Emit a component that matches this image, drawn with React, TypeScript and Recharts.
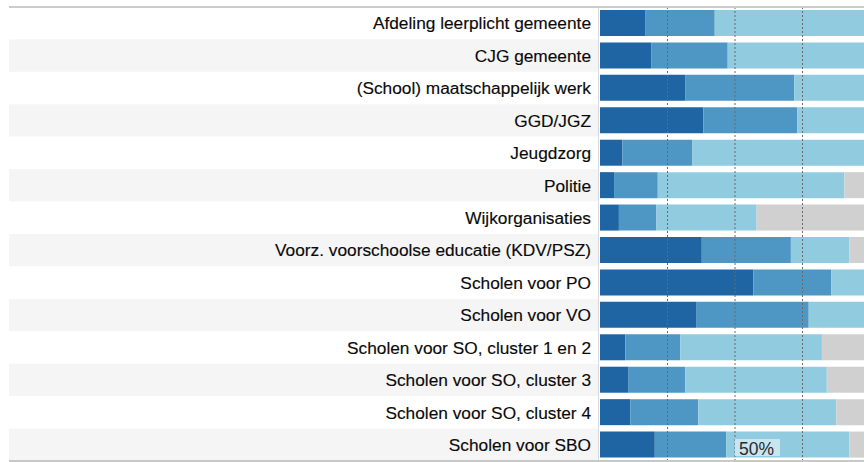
import React from "react";
import { BarChart, Bar, XAxis, YAxis, ReferenceLine } from "recharts";

const categories = [
  "Afdeling leerplicht gemeente",
  "CJG gemeente",
  "(School) maatschappelijk werk",
  "GGD/JGZ",
  "Jeugdzorg",
  "Politie",
  "Wijkorganisaties",
  "Voorz. voorschoolse educatie (KDV/PSZ)",
  "Scholen voor PO",
  "Scholen voor VO",
  "Scholen voor SO, cluster 1 en 2",
  "Scholen voor SO, cluster 3",
  "Scholen voor SO, cluster 4",
  "Scholen voor SBO",
];

const seriesDark = [16.7, 19.1, 31.7, 38.3, 8.3, 5.2, 7.0, 37.7, 56.8, 35.8, 9.4, 10.6, 11.2, 20.3];
const seriesMedium = [25.8, 28.2, 40.2, 34.8, 25.8, 16.2, 13.9, 33.0, 28.9, 41.5, 20.3, 21.0, 25.2, 26.4];
const seriesLight = [57.5, 52.7, 28.1, 26.9, 65.9, 69.1, 37.1, 21.6, 14.3, 22.7, 52.5, 52.4, 51.1, 45.6];
const seriesGray = [0, 0, 0, 0, 0, 9.5, 42.0, 7.7, 0, 0, 17.8, 16.0, 12.5, 7.7];

const gridTicks = [25, 50, 75];
const markerValue = 50;
const markerLabel = "50%";

const data = categories.map((name, i) => ({
  name,
  dark: seriesDark[i],
  medium: seriesMedium[i],
  light: seriesLight[i],
  gray: seriesGray[i],
}));

const CHART_W = 880;
const CHART_H = 462;
const MARGIN = { top: 7, right: 10, bottom: 1, left: 0 };
const BAND = (CHART_H - MARGIN.top - MARGIN.bottom) / categories.length;
const FONT = "'Liberation Sans', Arial, sans-serif";

const CategoryTick = (props: any) => {
  const { x, y, payload, index } = props;
  return (
    <g>
      <rect
        x={9}
        y={y - BAND / 2}
        width={589}
        height={BAND}
        fill={index % 2 === 1 ? "#f5f5f5" : "#ffffff"}
      />
      <line x1={598.5} x2={598.5} y1={y - BAND / 2} y2={y + BAND / 2} stroke="#d5dbe1" strokeWidth={1} />
      <text
        x={x - 1}
        y={y}
        dy="0.36em"
        textAnchor="end"
        fontSize={17.3}
        fontFamily={FONT}
        fill="#0a0a0a"
        stroke="#0a0a0a"
        strokeWidth={0.15}
      >
        {payload.value}
      </text>
    </g>
  );
};

const MarkerLabel = (props: any) => {
  const vb = props.viewBox || {};
  const bx = vb.x;
  const by = vb.y + vb.height - 22;
  return (
    <g>
      <rect x={bx} y={by} width={45} height={17} fill="#c8e6f2" />
      <text x={bx + 4} y={by + 16} fontSize={17.5} fontFamily={FONT} fill="#2a2a2a">
        {markerLabel}
      </text>
    </g>
  );
};

export default function App() {
  return (
    <div
      style={{
        position: "absolute",
        left: 0,
        top: 0,
        width: 864,
        height: 462,
        overflow: "hidden",
        background: "#ffffff",
      }}
    >
      <div style={{ position: "absolute", left: 0, top: 0 }}>
        <BarChart
          width={CHART_W}
          height={CHART_H}
          data={data}
          layout="vertical"
          margin={MARGIN}
          barSize={26}
        >
          <XAxis type="number" domain={[0, 100]} hide />
          <YAxis
            type="category"
            dataKey="name"
            width={600}
            axisLine={false}
            tickLine={false}
            tick={<CategoryTick />}
            interval={0}
          />
          <Bar dataKey="dark" stackId="a" fill="#1f65a4" isAnimationActive={false} />
          <Bar dataKey="medium" stackId="a" fill="#4e97c4" isAnimationActive={false} />
          <Bar dataKey="light" stackId="a" fill="#91cbe0" isAnimationActive={false} />
          <Bar dataKey="gray" stackId="a" fill="#d0d0d0" isAnimationActive={false} />
          {gridTicks.map((t) => (
            <ReferenceLine
              key={t}
              x={t}
              stroke="#6a6a6a"
              strokeDasharray="2 2"
              strokeWidth={1}
              label={t === markerValue ? <MarkerLabel /> : undefined}
            />
          ))}
        </BarChart>
      </div>
      <div
        style={{
          position: "absolute",
          left: 9,
          top: 6,
          width: 855,
          height: 0,
          borderTop: "2px solid #cccccc",
        }}
      />
      <div
        style={{
          position: "absolute",
          left: 9,
          top: 460,
          width: 855,
          height: 0,
          borderTop: "2px solid #c8c8c8",
        }}
      />
    </div>
  );
}
